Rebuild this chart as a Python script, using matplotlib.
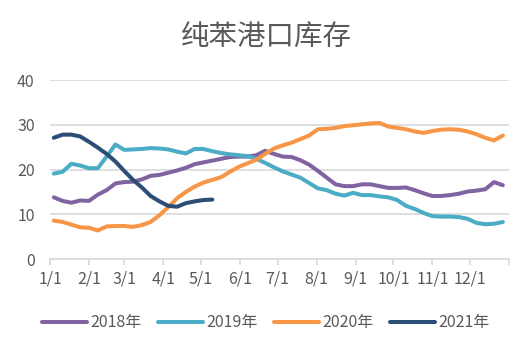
import matplotlib
matplotlib.use("Agg")
import matplotlib.pyplot as plt

plt.rcParams['font.family'] = ['Noto Sans CJK SC', 'DejaVu Sans']

# --- DONNEES (hebdomadaire) ---
START_DAY = 3
month_days = [0, 31, 59, 90, 120, 151, 181, 212, 243, 273, 304, 334, 365]
month_labels = ['1/1', '2/1', '3/1', '4/1', '5/1', '6/1', '7/1', '8/1', '9/1',
                '10/1', '11/1', '12/1', '']

y2018 = [13.8, 13.0, 12.6, 13.1, 13.0, 14.4, 15.4, 16.9, 17.2, 17.3, 17.8, 18.6, 18.8,
         19.3, 19.8, 20.4, 21.2, 21.6, 22.0, 22.4, 22.8, 22.9, 22.9, 23.2, 24.2, 23.5,
         22.9, 22.8, 22.1, 21.1, 19.7, 18.2, 16.7, 16.3, 16.3, 16.7, 16.7, 16.3, 15.9,
         15.9, 16.0, 15.4, 14.7, 14.1, 14.1, 14.3, 14.6, 15.1, 15.3, 15.6, 17.2, 16.5]
y2019 = [19.1, 19.5, 21.3, 20.9, 20.3, 20.3, 22.9, 25.6, 24.4, 24.5, 24.6, 24.8, 24.7,
         24.5, 24.0, 23.6, 24.6, 24.6, 24.1, 23.7, 23.4, 23.2, 23.0, 22.4, 21.5, 20.5,
         19.6, 18.9, 18.2, 17.0, 15.8, 15.4, 14.6, 14.2, 14.8, 14.3, 14.3, 14.0, 13.8,
         13.2, 11.9, 11.2, 10.3, 9.6, 9.5, 9.5, 9.4, 9.0, 8.1, 7.8, 7.9, 8.3]
y2020 = [8.6, 8.3, 7.7, 7.1, 7.0, 6.4, 7.3, 7.4, 7.4, 7.2, 7.6, 8.3, 9.8,
         11.6, 13.6, 15.0, 16.2, 17.1, 17.7, 18.3, 19.5, 20.6, 21.4, 22.2, 23.5, 24.7,
         25.4, 26.0, 26.8, 27.6, 29.0, 29.1, 29.3, 29.7, 29.9, 30.1, 30.3, 30.4, 29.6,
         29.3, 29.0, 28.5, 28.2, 28.6, 28.9, 29.0, 28.9, 28.5, 27.9, 27.1, 26.5, 27.6]
y2021 = [27.1, 27.8, 27.8, 27.4, 26.2, 24.9, 23.5, 21.8, 19.7, 17.7, 16.0, 14.1, 12.9,
         11.9, 11.7, 12.5, 12.9, 13.2, 13.3]

series = [('2018年', y2018, '#8064A2'),
          ('2019年', y2019, '#4BACC6'),
          ('2020年', y2020, '#F79646'),
          ('2021年', y2021, '#2C4D75')]


def main():
    fig = plt.figure(figsize=(5.32, 3.54), dpi=100)
    ax = fig.add_axes([0.094, 0.268, 0.863, 0.506])

    for label, vals, color in series:
        x = [START_DAY + 7 * i for i in range(len(vals))]
        ax.plot(x, vals, color=color, linewidth=2.9, label=label,
                solid_capstyle='round', solid_joinstyle='round')

    ax.set_xlim(0, 365)
    ax.set_ylim(0, 40)
    ax.set_yticks([0, 10, 20, 30, 40])
    ax.set_xticks(month_days)
    ax.set_xticklabels(month_labels)

    ax.grid(axis='y', color='#D9D9D9', linewidth=1.2)
    ax.set_axisbelow(True)
    for s in ['top', 'right', 'left']:
        ax.spines[s].set_visible(False)
    ax.spines['bottom'].set_color('#D9D9D9')
    ax.spines['bottom'].set_linewidth(1.2)
    ax.tick_params(axis='x', colors='#D9D9D9', length=4, width=1.2,
                   labelcolor='#595959', labelsize=11.5, pad=4)
    ax.tick_params(axis='y', length=0, labelcolor='#595959', labelsize=11.5, pad=11)

    fig.text(0.5, 0.893, '纯苯港口库存', ha='center', va='center',
             fontsize=20.5, color='#595959', fontweight='light')

    leg = fig.legend(loc='center', bbox_to_anchor=(0.5, 0.088), ncol=4,
                     frameon=False, fontsize=11.5, handlelength=2.8,
                     handletextpad=0.25, columnspacing=1.0)
    for t in leg.get_texts():
        t.set_color('#595959')

    fig.savefig('out.png', dpi=100)


if __name__ == "__main__":
    main()
